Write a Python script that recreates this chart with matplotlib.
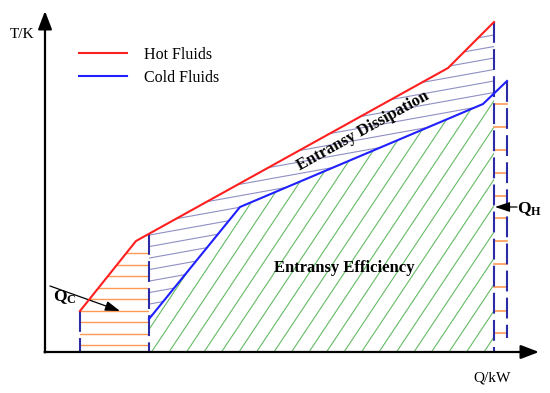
import numpy as np
import matplotlib.pyplot as plt
from matplotlib.patches import Polygon
from matplotlib.lines import Line2D

plt.rcParams["font.family"] = ["Liberation Serif", "DejaVu Serif"]
plt.rcParams["mathtext.fontset"] = "custom"
plt.rcParams["mathtext.rm"] = "Liberation Serif"
plt.rcParams["mathtext.bf"] = "Liberation Serif:bold"

# Schematic T-Q diagram (arbitrary units, origin at axis corner)
hot_Q = [35, 91, 403, 449]
hot_T = [41, 111, 284, 330]
cold_Q = [104, 195, 438, 462]
cold_T = [33, 145, 248, 271]
cold_end_bottom = 14          # lower end of the cold-side dashed line

# hatch-line levels
orange_left_T = [7, 18.5, 30, 41.5, 53, 64.5, 76, 87.5, 99]
orange_right_T = [19, 41, 65, 88, 111, 134, 156, 179, 202, 225, 248]
purple_slope = 0.18
purple_spacing = 11.5
purple_top = 317
green_slope = 1.5
green_spacing = 17.5

RED = "#ff1f1f"
BLUE = "#1f1fff"
NAVY = "#2b2ba6"
ORANGE = "#ff9a55"
PURPLE = "#8f8fc4"
GREEN = "#66bb66"

fig = plt.figure(figsize=(5.5, 3.93), dpi=100)
ax = fig.add_axes([0, 0, 1, 1])
ax.set_xlim(-45, 505)
ax.set_ylim(-41, 352)
ax.axis("off")

q_left = cold_Q[0]
q_right = hot_Q[-1]


def hot_at(q):
    return np.interp(q, hot_Q, hot_T)


def cold_at(q):
    return np.interp(q, cold_Q, cold_T)


# --- regions used for clipping the hatch lines ---
orange_poly = [(hot_Q[0], 0)] + list(zip(hot_Q[:2], hot_T[:2])) + \
    [(q_left, hot_at(q_left)), (q_left, 0)]
purple_top_pts = [(q_left, hot_at(q_left))] + \
    [(q, t) for q, t in zip(hot_Q, hot_T) if q_left < q <= q_right]
purple_bot_pts = [(q_right, cold_at(q_right))] + \
    [(q, t) for q, t in zip(cold_Q[::-1], cold_T[::-1]) if q <= q_right]
purple_poly = purple_top_pts + purple_bot_pts
green_poly = [(q_left, 0)] + \
    [(q, t) for q, t in zip(cold_Q, cold_T) if q <= q_right] + \
    [(q_right, cold_at(q_right)), (q_right, 0)]


def clip_patch(pts):
    p = Polygon(pts, closed=True, facecolor="none", edgecolor="none")
    ax.add_patch(p)
    return p


# orange horizontal lines (hot fluid, left)
clip = clip_patch(orange_poly)
for t in orange_left_T:
    ln, = ax.plot([hot_Q[0], q_left], [t, t], color=ORANGE, lw=1.0, zorder=2)
    ln.set_clip_path(clip)

# purple slanted lines (entransy dissipation)
clip = clip_patch(purple_poly)
qq = np.array([q_left - 10, q_right + 10])
for c in np.arange(purple_top, -120, -purple_spacing):
    ln, = ax.plot(qq, c + purple_slope * (qq - q_right), color=PURPLE,
                  lw=0.8, zorder=2)
    ln.set_clip_path(clip)

# green slanted lines (entransy efficiency)
clip = clip_patch(green_poly)
tt = np.array([-5, 300])
for q0 in np.arange(q_left - 260, q_right + 5, green_spacing):
    ln, = ax.plot(q0 + tt / green_slope, tt, color=GREEN, lw=0.8, zorder=2)
    ln.set_clip_path(clip)

# orange ticks on the right
for t in orange_right_T:
    ax.plot([hot_Q[-1], cold_Q[-1]], [t, t], color=ORANGE, lw=1.2, zorder=2)

# dashed verticals
dash = (0, (10, 3))
ax.plot([hot_Q[0]] * 2, [hot_T[0], 0], color=NAVY, lw=1.5, ls=dash, zorder=3)
ax.plot([q_left] * 2, [hot_at(q_left), 0], color=NAVY, lw=1.5, ls=dash, zorder=3)
ax.plot([hot_Q[-1]] * 2, [hot_T[-1], 0], color=NAVY, lw=1.5, ls=dash, zorder=3)
ax.plot([cold_Q[-1]] * 2, [cold_T[-1], cold_end_bottom], color=NAVY, lw=1.5,
        ls=dash, zorder=3)

# curves
ax.plot(hot_Q, hot_T, color=RED, lw=1.5, zorder=4)
ax.plot(cold_Q, cold_T, color=BLUE, lw=1.5, zorder=4)

# axes with arrows
arrow = dict(arrowstyle="-|>,head_length=1.1,head_width=0.42", lw=1.6,
             color="k", shrinkA=0, shrinkB=0, mutation_scale=10)
ax.annotate("", xy=(0, 341), xytext=(0, -0.5), arrowprops=arrow, zorder=5)
ax.annotate("", xy=(494, 0), xytext=(-0.5, 0), arrowprops=arrow, zorder=5)
ax.text(-23, 317, "T/K", fontsize=11, ha="center", va="center")
ax.text(447, -26, "Q/kW", fontsize=11, ha="center", va="center")

# legend
handles = [Line2D([], [], color=RED, lw=1.5),
           Line2D([], [], color=BLUE, lw=1.5)]
ax.legend(handles, ["Hot Fluids", "Cold Fluids"], loc="upper left",
          bbox_to_anchor=(79 / 550, 1 - 47 / 393), frameon=False,
          fontsize=11.5, handlelength=3.0, handletextpad=1.05,
          labelspacing=0.42, borderpad=0, borderaxespad=0)

# annotations
ax.text(318, 221, "Entransy Dissipation", fontsize=12, fontweight="bold",
        rotation=29, ha="center", va="center", rotation_mode="anchor")
ax.text(299, 84, "Entransy Efficiency", fontsize=12, fontweight="bold",
        ha="center", va="center")

small_arrow = dict(arrowstyle="-|>,head_length=0.9,head_width=0.3", lw=0.9,
                   color="k", shrinkA=0, shrinkB=0, mutation_scale=10)
ax.text(20, 55, r"$\mathbf{Q_C}$", fontsize=12.5, ha="center", va="center")
ax.annotate("", xy=(75, 41), xytext=(5, 66), arrowprops=small_arrow)
ax.text(484, 143, r"$\mathbf{Q_H}$", fontsize=12.5, ha="center", va="center")
ax.annotate("", xy=(450, 145), xytext=(472, 145), arrowprops=small_arrow)

fig.savefig("out.png", dpi=100)
